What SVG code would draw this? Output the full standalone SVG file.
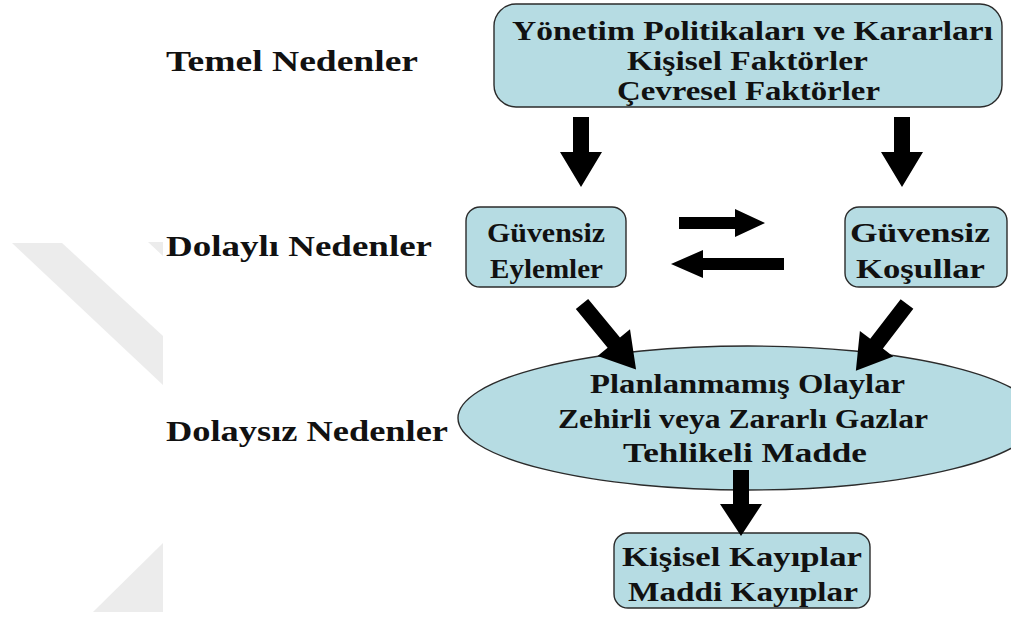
<svg xmlns="http://www.w3.org/2000/svg" width="1011" height="617" viewBox="0 0 1011 617">
  <style>
    .node { fill: #b6dce3; stroke: #2b2b2b; stroke-width: 1.4; }
    .lbl { font-family: "Liberation Serif", "Times New Roman", serif; font-weight: bold; fill: #111; }
    .big { font-size: 30px; }
    .mid { font-size: 28px; }
    .arrow { fill: #000; }
    .mark { fill: #ececec; }
  </style>

  <rect width="1011" height="617" fill="#ffffff"/>

  <!-- faint background mark on the left -->
  <g id="backdrop">
    <polygon class="mark" points="12,243 62,243 163,336 163,385"/>
    <polygon class="mark" points="148,242 163,242 163,256"/>
    <polygon class="mark" points="163,543 163,612 93,612"/>
  </g>

  <!-- level captions -->
  <g id="captions">
    <text class="lbl big" x="166" y="71" textLength="252" lengthAdjust="spacingAndGlyphs">Temel Nedenler</text>
    <text class="lbl big" x="166" y="256" textLength="266" lengthAdjust="spacingAndGlyphs">Dolaylı Nedenler</text>
    <text class="lbl big" x="166" y="441" textLength="282" lengthAdjust="spacingAndGlyphs">Dolaysız Nedenler</text>
  </g>

  <g id="root-causes">
    <rect class="node" x="494" y="4" width="508" height="103" rx="22"/>
    <text class="lbl mid" x="512" y="40" textLength="481" lengthAdjust="spacingAndGlyphs">Yönetim Politikaları ve Kararları</text>
    <text class="lbl mid" x="627" y="70" textLength="241" lengthAdjust="spacingAndGlyphs">Kişisel Faktörler</text>
    <text class="lbl mid" x="617" y="100" textLength="263" lengthAdjust="spacingAndGlyphs">Çevresel Faktörler</text>
  </g>

  <g id="unsafe-acts">
    <rect class="node" x="466" y="207" width="160" height="80" rx="14"/>
    <text class="lbl mid" x="487" y="242" textLength="118" lengthAdjust="spacingAndGlyphs">Güvensiz</text>
    <text class="lbl mid" x="490" y="278" textLength="113" lengthAdjust="spacingAndGlyphs">Eylemler</text>
  </g>

  <g id="unsafe-conditions">
    <rect class="node" x="845" y="207" width="162" height="80" rx="14"/>
    <text class="lbl mid" x="850" y="242" textLength="140" lengthAdjust="spacingAndGlyphs">Güvensiz</text>
    <text class="lbl mid" x="856" y="278" textLength="129" lengthAdjust="spacingAndGlyphs">Koşullar</text>
  </g>

  <g id="direct-causes">
    <ellipse class="node" cx="748" cy="418" rx="290" ry="72"/>
    <text class="lbl mid" x="590" y="393" textLength="315" lengthAdjust="spacingAndGlyphs">Planlanmamış Olaylar</text>
    <text class="lbl mid" x="558" y="428" textLength="370" lengthAdjust="spacingAndGlyphs">Zehirli veya Zararlı Gazlar</text>
    <text class="lbl mid" x="623" y="462" textLength="244" lengthAdjust="spacingAndGlyphs">Tehlikeli Madde</text>
  </g>

  <g id="losses">
    <rect class="node" x="614" y="533" width="256" height="75" rx="14"/>
    <text class="lbl mid" x="622" y="566" textLength="240" lengthAdjust="spacingAndGlyphs">Kişisel Kayıplar</text>
    <text class="lbl mid" x="628" y="601" textLength="230" lengthAdjust="spacingAndGlyphs">Maddi Kayıplar</text>
  </g>

  <!-- block arrows, each drawn along +x from its tail then placed -->
  <g id="connectors">
    <polygon class="arrow" transform="translate(581,117) rotate(90)" points="0,-8 35,-8 35,-21 70,0 35,21 35,8 0,8"/>
    <polygon class="arrow" transform="translate(902,117) rotate(90)" points="0,-8 35,-8 35,-21 70,0 35,21 35,8 0,8"/>
    <polygon class="arrow" transform="translate(679,223)" points="0,-6 56,-6 56,-14 86,0 56,14 56,6 0,6"/>
    <polygon class="arrow" transform="translate(784,264) rotate(180)" points="0,-6 81,-6 81,-14 113,0 81,14 81,6 0,6"/>
    <polygon class="arrow" transform="translate(582,304) rotate(50.5)" points="0,-8 50,-8 50,-21 85,0 50,21 50,8 0,8"/>
    <polygon class="arrow" transform="translate(907,304) rotate(127.5)" points="0,-8 50,-8 50,-21 84,0 50,21 50,8 0,8"/>
    <polygon class="arrow" transform="translate(741,470) rotate(90)" points="0,-8 34,-8 34,-21 66,0 34,21 34,8 0,8"/>
  </g>
</svg>
